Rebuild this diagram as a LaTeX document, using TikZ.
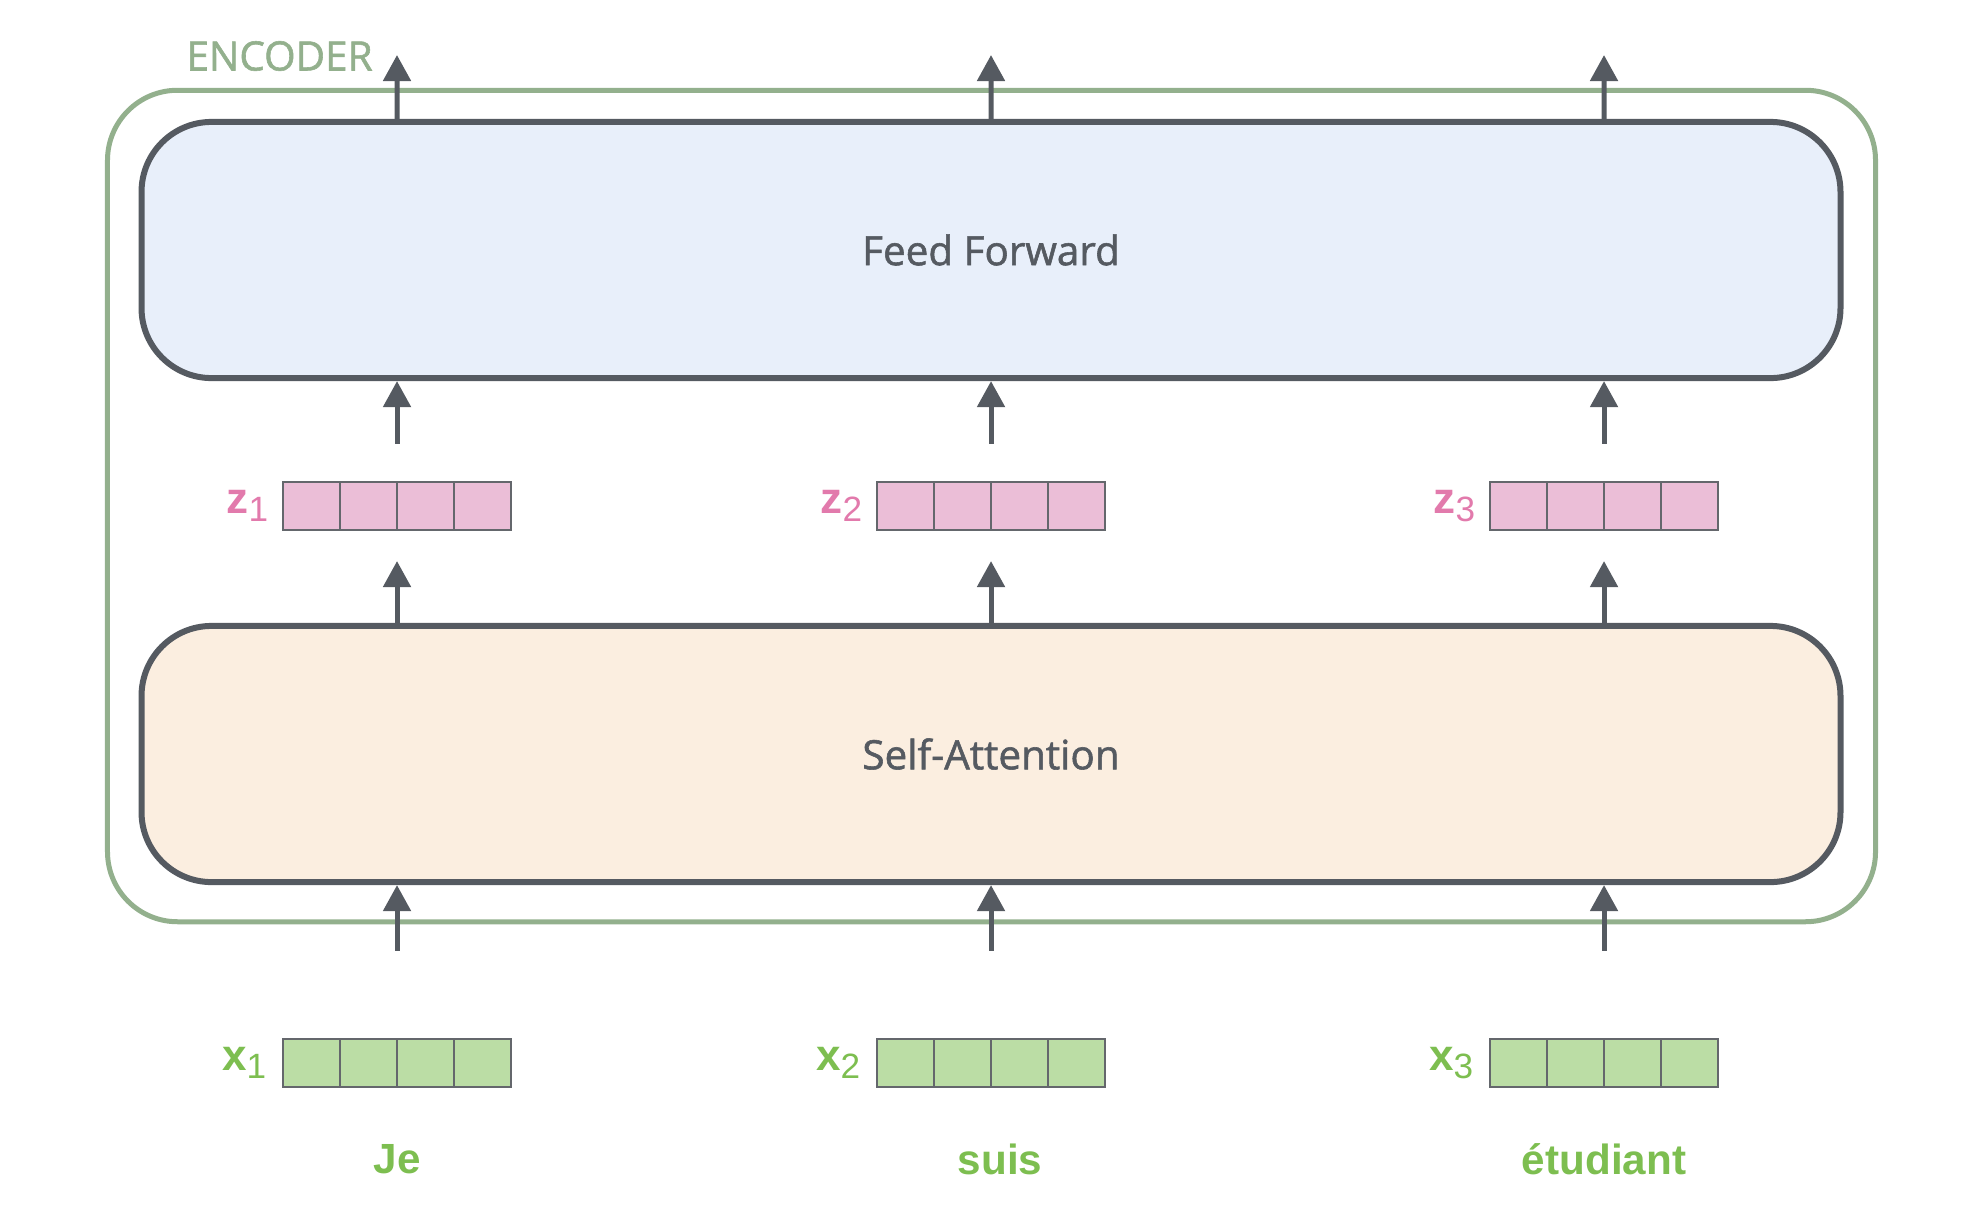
\documentclass[tikz,border=0pt]{standalone}
\usepackage{fontspec}
\setmainfont{Open Sans}
\newfontfamily\semifont{Open Sans}[FakeBold=1.4]
\newfontfamily\labfont{Liberation Sans}
\usetikzlibrary{arrows.meta,positioning}
\definecolor{encgreen}{RGB}{147,176,141}
\definecolor{boxgrey}{RGB}{85,90,97}
\definecolor{ffblue}{RGB}{232,239,250}
\definecolor{sapeach}{RGB}{251,238,224}
\definecolor{zpink}{RGB}{235,190,215}
\definecolor{zpinktext}{RGB}{226,122,172}
\definecolor{xgreen}{RGB}{187,221,165}
\definecolor{xgreentext}{RGB}{125,190,80}
\definecolor{cellgrey}{RGB}{100,103,108}
\def\vlab#1#2{#1\raisebox{-0.35ex}{\mdseries\fontsize{10}{10}\selectfont #2}}
\tikzset{
	layer/.style={draw=boxgrey, line width=0.6mm, rounded corners=7mm, minimum width=16.98cm, minimum height=2.56cm, text=boxgrey, font=\semifont\fontsize{11.5}{14}\selectfont},
	encbox/.style={draw=encgreen, line width=0.5mm, rounded corners=7mm, minimum width=17.67cm, minimum height=8.31cm},
	enclab/.style={text=encgreen, font=\semifont\fontsize{11.5}{14}\selectfont, anchor=west},
	cell/.style={draw=cellgrey, line width=0.2mm, minimum width=5.72mm, minimum height=4.8mm, inner sep=0, outer sep=0},
	zcell/.style={cell, fill=zpink},
	xcell/.style={cell, fill=xgreen},
	zlab/.style={text=zpinktext, font=\labfont\bfseries\fontsize{12.5}{14}\selectfont},
	xlab/.style={text=xgreentext, font=\labfont\bfseries\fontsize{12.5}{14}\selectfont},
	word/.style={text=xgreentext, font=\labfont\bfseries\fontsize{12}{14}\selectfont},
	flow/.style={draw=boxgrey, line width=0.5mm, -{Triangle[width=2.7mm,length=2.6mm]}}
}
\begin{document}
\begin{tikzpicture}[x=0.01cm, y=-0.01cm]
		%%%%% START %%%%%
		\useasboundingbox (0,0) rectangle (1982,1212);
		
		\node[encbox] (enc) at (991.5,506) {};
		\node[enclab] (enclab) at (174,56) {ENCODER};
		
		\node[layer, fill=ffblue] (ff) at (991,250) {Feed Forward};
		\node[layer, fill=sapeach] (sa) at (991,754) {Self-Attention};
		
		\foreach \c/\xx/\wx/\w in {1/397/397/Je, 2/991/1000/suis, 3/1604/1604/étudiant}{
			% vectors
			\foreach \k in {1,...,4}{
				\node[zcell] (z\c-\k) at ({\xx+(\k-2.5)*57.2},506) {};
				\node[xcell] (x\c-\k) at ({\xx+(\k-2.5)*57.2},1063) {};
			}
			\node[zlab, left=0.2mm of z\c-1] (zl\c) {\vlab{z}{\c}};
			\node[xlab, left=0.4mm of x\c-1] (xl\c) {\vlab{x}{\c}};
			\node[word] (w\c) at (\wx,1159) {\w};
			\coordinate (out\c) at (\xx,55);
			
			% arrows
			\draw[flow, shorten <=8.8mm] (x\c-2.north east) -- (sa.south -| x\c-2.east);
			\draw[flow, shorten >=3.1mm] (sa.north -| z\c-2.east) -- (z\c-2.south east);
			\draw[flow, shorten <=3.8mm] (z\c-2.north east) -- (ff.south -| z\c-2.east);
			\draw[flow] (ff.north -| z\c-2.east) -- (out\c);
		}
		%%%%% END %%%%%
\end{tikzpicture}
\end{document}
